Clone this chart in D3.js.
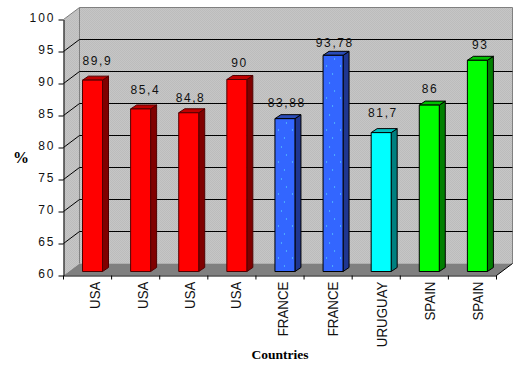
<!DOCTYPE html>
<html>
<head>
<meta charset="utf-8">
<script src="https://cdn.jsdelivr.net/npm/d3@7"></script>
<style>
    html, body { margin: 0; padding: 0; background: #fff; }
    svg { display: block; }
    .tick text, .value { font-family: "Liberation Sans", Arial, sans-serif; font-size: 12px; fill: #111; }
    .value { letter-spacing: 1.6px; }
    .yaxis .tick text { letter-spacing: 2px; }
    .title { font-family: "Liberation Serif", "Times New Roman", serif; font-weight: bold; fill: #000; }
</style>
</head>
<body>
<svg class="chart"></svg>
<script>
// the data
var countries = ['USA', 'USA', 'USA', 'USA', 'FRANCE', 'FRANCE', 'URUGUAY', 'SPAIN', 'SPAIN'];
var values = [89.9, 85.4, 84.8, 90, 83.88, 93.78, 81.7, 86, 93];
var valueLabels = ['89,9', '85,4', '84,8', '90', '83,88', '93,78', '81,7', '86', '93'];
var yTicks = [60, 65, 70, 75, 80, 85, 90, 95, 100];

// the original places its labels unevenly, these nudges follow it
var labelLift = [15, 15, 11, 13, 12, 8, 16, 12, 11];
var labelShift = [4, 4, 1, 2, 1, 1, 1, 0, 2];
var countryShift = [12, 12, 11, 9, 8, 10, 11, 11, 11];

// colours per country: front, top, side, outline
var colours = {
    USA: ['#ff0000', '#c00000', '#800000', '#500000'],
    FRANCE: ['url(#speckle)', '#2a4cb8', '#1f3690', '#000'],
    URUGUAY: ['#00ffff', '#00c0c0', '#008080', '#000'],
    SPAIN: ['#00ff00', '#00c000', '#008000', '#000']
};

var width = 517, height = 365;

// the 3D look: how far the back wall and the bars are pushed
var wallDx = 16, wallDy = -12;
var barDx = 6, barDy = -4;
var barWidth = 20, barInset = 19, barLift = 4;

var svg = d3.select('.chart')
    .attr('width', width)
    .attr('height', height);

var x = d3.scaleBand()
    .domain(d3.range(countries.length))
    .range([63.5, 496.5]);

var y = d3.scaleLinear()
    .domain([60, 100])
    .range([275.5, 19.5]);

var x0 = x.range()[0], x1 = x.range()[1];
var yBottom = y(60), yTop = y(100);

// patterns: the dithered grey of the walls and the speckled blue of the French bars
var defs = svg.append('defs');

var dither = defs.append('pattern')
    .attr('id', 'dither')
    .attr('width', 2).attr('height', 2)
    .attr('patternUnits', 'userSpaceOnUse');
dither.append('rect').attr('width', 2).attr('height', 2).attr('fill', '#c6c6c6');
dither.append('rect').attr('width', 1).attr('height', 1).attr('fill', '#bcbcbc');
dither.append('rect').attr('x', 1).attr('y', 1).attr('width', 1).attr('height', 1).attr('fill', '#bcbcbc');

var speckle = defs.append('pattern')
    .attr('id', 'speckle')
    .attr('width', 14).attr('height', 32)
    .attr('patternUnits', 'userSpaceOnUse');
speckle.append('rect').attr('width', 14).attr('height', 32).attr('fill', '#3366ff');
[[6, 3], [11, 11], [3, 18], [9, 26]].forEach(function (p) {
    speckle.append('rect').attr('x', p[0]).attr('y', p[1])
        .attr('width', 1).attr('height', 1).attr('fill', '#66eeff');
});

function pts(list) {
    return list.map(function (p) { return p.join(','); }).join(' ');
}

// side wall, back wall, floor
svg.append('polygon')
    .attr('points', pts([[x0, yTop], [x0 + wallDx, yTop + wallDy], [x0 + wallDx, yBottom + wallDy], [x0, yBottom]]))
    .attr('fill', 'url(#dither)');

svg.append('rect')
    .attr('x', x0 + wallDx)
    .attr('y', yTop + wallDy)
    .attr('width', x1 - x0)
    .attr('height', yBottom - yTop)
    .attr('fill', 'url(#dither)');

svg.append('polygon')
    .attr('points', pts([[x0, yBottom], [x0 + wallDx, yBottom + wallDy], [x1 + wallDx, yBottom + wallDy], [x1, yBottom]]))
    .attr('fill', '#808080');

// wall edges
svg.append('path')
    .attr('d', 'M' + x0 + ',' + yTop + 'L' + (x0 + wallDx) + ',' + (yTop + wallDy)
        + 'H' + (x1 + wallDx) + 'V' + (yBottom + wallDy)
        + 'M' + (x0 + wallDx) + ',' + (yTop + wallDy) + 'V' + (yBottom + wallDy))
    .attr('fill', 'none')
    .attr('stroke', '#808080');

// gridlines run along the back wall and fold down the side wall
svg.append('g').selectAll('path')
    .data(yTicks.slice(1, -1))
    .enter()
    .append('path')
    .attr('d', function (d) {
        return 'M' + x0 + ',' + y(d) + 'L' + (x0 + wallDx) + ',' + (y(d) + wallDy) + 'H' + (x1 + wallDx);
    })
    .attr('fill', 'none')
    .attr('stroke', '#000');

// diagonal at the right end of the floor
svg.append('line')
    .attr('x1', x1).attr('y1', yBottom)
    .attr('x2', x1 + wallDx).attr('y2', yBottom + wallDy)
    .attr('stroke', '#000');

// the bars: one group for each, side and top behind the front face
var bars = svg.append('g').selectAll('g')
    .data(values)
    .enter()
    .append('g')
    .attr('transform', function (d, i) {
        return 'translate(' + (x(i) + barInset) + ' ' + (yBottom - barLift) + ')';
    })
    .attr('stroke', function (d, i) { return colours[countries[i]][3]; })
    .attr('stroke-linejoin', 'round');

function barHeight(d) { return yBottom - y(d); }

bars.append('polygon')
    .attr('points', function (d) {
        var h = barHeight(d);
        return pts([[barWidth, 0], [barWidth + barDx, barDy], [barWidth + barDx, -h + barDy], [barWidth, -h]]);
    })
    .attr('fill', function (d, i) { return colours[countries[i]][2]; });

bars.append('polygon')
    .attr('points', function (d) {
        var h = barHeight(d);
        return pts([[0, -h], [barDx, -h + barDy], [barWidth + barDx, -h + barDy], [barWidth, -h]]);
    })
    .attr('fill', function (d, i) { return colours[countries[i]][1]; });

bars.append('rect')
    .attr('y', function (d) { return -barHeight(d); })
    .attr('width', barWidth)
    .attr('height', barHeight)
    .attr('fill', function (d, i) { return colours[countries[i]][0]; });

// value labels
svg.append('g').selectAll('text')
    .data(values)
    .enter()
    .append('text')
    .attr('class', 'value')
    .attr('x', function (d, i) { return x(i) + barInset + barWidth / 2 + labelShift[i] + 0.8; })
    .attr('y', function (d, i) { return y(d) - barLift - labelLift[i]; })
    .attr('text-anchor', 'middle')
    .text(function (d, i) { return valueLabels[i]; });

// axes
var yAxis = d3.axisLeft(y)
    .tickValues(yTicks)
    .tickSize(5)
    .tickPadding(3)
    .tickSizeOuter(0);

var yAxisG = svg.append('g')
    .attr('class', 'yaxis')
    .attr('transform', 'translate(' + x0 + ' 0)')
    .call(yAxis);
yAxisG.selectAll('line, path').attr('stroke', '#000');
yAxisG.selectAll('text').attr('dy', '.2em');

var xAxis = d3.axisBottom(x)
    .tickSize(0)
    .tickFormat(function (i) { return countries[i]; });

var xAxisG = svg.append('g')
    .attr('transform', 'translate(0 ' + yBottom + ')')
    .call(xAxis);
xAxisG.select('.domain').attr('stroke', '#000');

xAxisG.selectAll('.tick line').remove();
xAxisG.selectAll('.tick text')
    .attr('text-anchor', 'end')
    .attr('dy', 0)
    .attr('y', 0)
    .style('font-size', '15px')
    .attr('transform', function (i) {
        return 'translate(' + countryShift[i] + ' 6) rotate(-90) scale(.89 1)';
    });

// tick marks sit between the categories, so they come from the band edges
xAxisG.selectAll('.edge')
    .data(d3.range(countries.length + 1))
    .enter()
    .append('line')
    .attr('class', 'edge')
    .attr('x1', function (i) { return x0 + i * x.step(); })
    .attr('x2', function (i) { return x0 + i * x.step(); })
    .attr('y2', 4)
    .attr('stroke', '#000');

// axis titles
svg.append('text')
    .attr('class', 'title')
    .attr('x', 13)
    .attr('y', 163)
    .style('font-size', '16px')
    .text('%');

svg.append('text')
    .attr('class', 'title')
    .attr('x', 280)
    .attr('y', 359)
    .attr('text-anchor', 'middle')
    .style('font-size', '13.5px')
    .text('Countries');
</script>
</body>
</html>
